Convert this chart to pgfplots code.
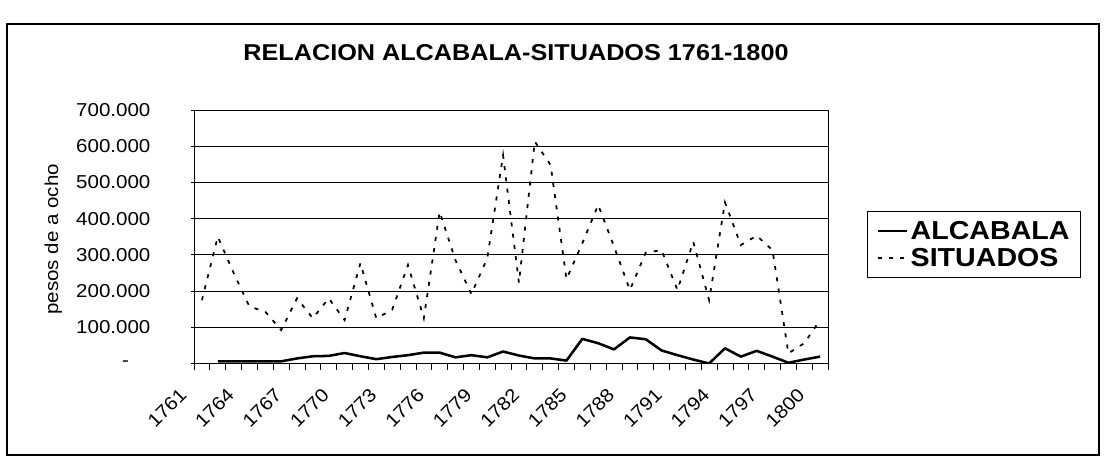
\documentclass[border=0pt]{standalone}
\usepackage{fontspec}
\setmainfont{Liberation Sans}[FakeStretch=1.1]
\usepackage{pgfplots}
\pgfplotsset{compat=1.18}
\usepackage{pgfplotstable}

\pgfplotstableread{
x y
0 175000
1 350000
2 250000
3 157000
4 143000
5 92000
6 180000
7 125000
8 180000
9 120000
10 277000
11 125000
12 148000
13 272000
14 125000
15 419000
16 285000
17 192000
18 290000
19 575000
20 223000
21 613000
22 548000
23 233000
24 332000
25 438000
26 323000
27 203000
28 306000
29 313000
30 203000
31 336000
32 175000
33 445000
34 327000
35 353000
36 313000
37 28000
38 56000
39 120000
}\situados

\pgfplotstableread{
x y
1 6000
2 6000
3 6000
4 6000
5 6000
6 14000
7 20000
8 21000
9 29000
10 20000
11 12000
12 18000
13 23000
14 30000
15 30000
16 17000
17 23000
18 17000
19 33000
20 22000
21 14000
22 14000
23 8000
24 68000
25 56000
26 39000
27 72000
28 67000
29 36000
30 23000
31 11000
32 0
33 42000
34 19000
35 35000
36 19000
37 2000
38 11000
39 19000
}\alcabala

\begin{document}
\begin{tikzpicture}
\useasboundingbox (0,0) rectangle (828.75pt,345.75pt);
\draw[line width=0.8pt] (5.25pt,4.5pt) rectangle (824.25pt,327.75pt);
\node[font=\bfseries\fontsize{17.2}{18}\selectfont] at (387pt,306.4pt) {RELACION ALCABALA-SITUADOS 1761-1800};
\begin{axis}[
  at={(145.5pt,73.125pt)}, anchor=south west,
  scale only axis, width=475.5pt, height=190.125pt,
  xmin=-0.5, xmax=39.5, ymin=0, ymax=700000,
  xtick={0,3,...,39},
  xticklabels={1761,1764,1767,1770,1773,1776,1779,1782,1785,1788,1791,1794,1797,1800},
  minor xtick={-0.5,0.5,...,39.5},
  major x tick style={draw=none},
  minor x tick style={black, line width=0.6pt},
  minor tick length=5pt,
  xtick align=outside,
  xtick pos=bottom, ytick pos=left,
  ytick={0,100000,...,700000},
  yticklabels={{-\kern16pt},100.000,200.000,300.000,400.000,500.000,600.000,700.000},
  scaled y ticks=false,
  ytick align=center,
  major tick length=5pt,
  ymajorgrids,
  grid style={black, line width=0.6pt},
  axis line style={black, line width=0.6pt},
  major y tick style={black, line width=0.6pt},
  tick label style={font=\fontsize{14}{16}\selectfont},
  yticklabel style={inner sep=0pt, xshift=-30pt},
  xticklabel style={inner sep=0pt, xshift=-14pt, yshift=-16pt, rotate=45, anchor=east},
  every axis y label/.style={at={(rel axis cs:-0.222,0.49)}, rotate=90, anchor=center, font=\fontsize{14}{16}\selectfont},
  ylabel={pesos de a ocho},
  legend style={at={(rel axis cs:1.062,0.603)}, anchor=north west, draw=black, line width=0.8pt,
    inner xsep=6.5pt, inner ysep=6pt, row sep=2.5pt,
    nodes={inner sep=2pt, text depth=0pt},
    font=\bfseries\fontsize{19.5}{20}\selectfont},
  legend cell align=left,
  legend image code/.code={\draw[#1] (0pt,0pt) -- (21.75pt,0pt);},
]
\addplot[black, line width=1.9pt, line join=round] table[x=x,y=y] {\alcabala};
\addlegendentry{ALCABALA}
\addplot[black, line width=1.3pt, dash pattern=on 3pt off 5.5pt] table[x=x,y=y] {\situados};
\addlegendentry{SITUADOS}
\end{axis}
\end{tikzpicture}
\end{document}
